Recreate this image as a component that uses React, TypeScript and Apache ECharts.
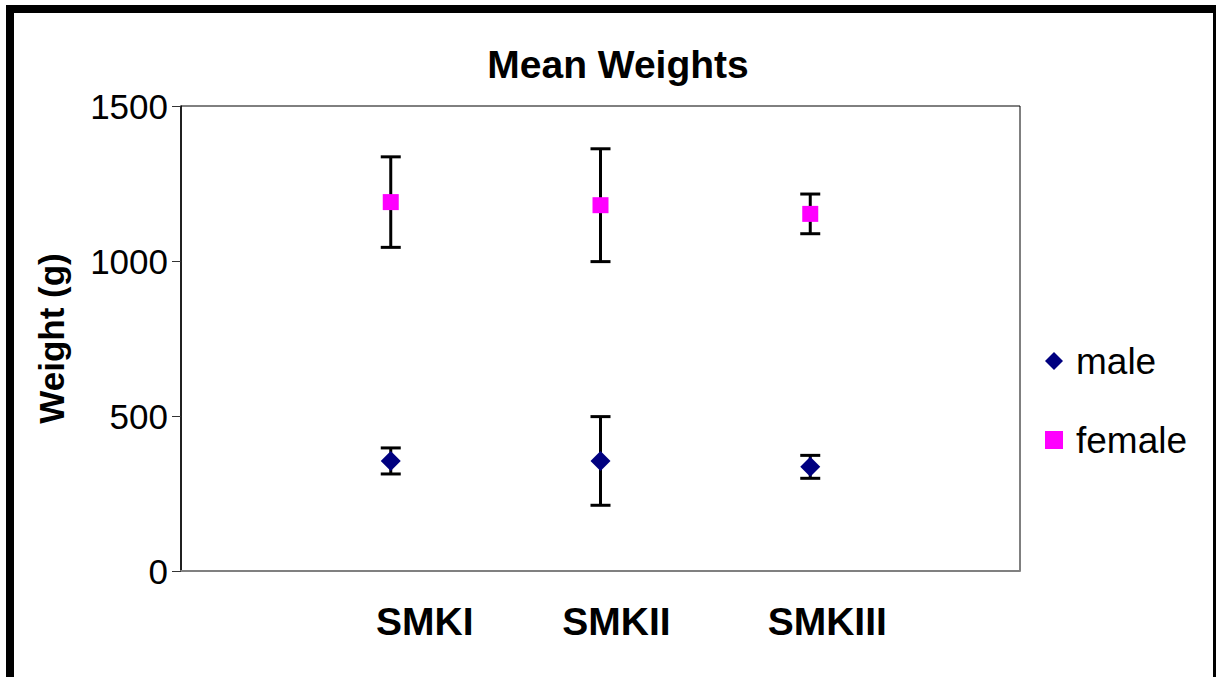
import React, { useEffect, useRef } from "react";
import * as echarts from "echarts";

const categories = ["SMKI", "SMKII", "SMKIII"];
const categoryX = [1, 2, 3];
const maleMean = [355, 355, 336];
const maleErr = [42, 143, 37];
const femaleMean = [1190, 1180, 1152];
const femaleErr = [146, 182, 64];
const yTicks = [0, 500, 1000, 1500];

const FONT = "'Liberation Sans', Arial, Helvetica, sans-serif";

export default function App() {
  const ref = useRef<HTMLDivElement>(null);
  useEffect(() => {
    if (!ref.current) return;
    const chart = echarts.init(ref.current, undefined, { renderer: "svg" });

    // label layout offsets (px) to mimic the original's label placement
    const labelPad = [68, 32, 34];

    const errData = (means: number[], errs: number[]) =>
      means.map((m, i) => [categoryX[i], m - errs[i], m + errs[i]]);

    const renderErr = (params: any, api: any) => {
      const x = api.value(0);
      const lo = api.coord([x, api.value(1)]);
      const hi = api.coord([x, api.value(2)]);
      const cap = 10;
      const style = { stroke: "#000", lineWidth: 3 };
      return {
        type: "group",
        children: [
          { type: "line", shape: { x1: lo[0], y1: lo[1], x2: hi[0], y2: hi[1] }, style },
          { type: "line", shape: { x1: hi[0] - cap, y1: hi[1], x2: hi[0] + cap, y2: hi[1] }, style },
          { type: "line", shape: { x1: lo[0] - cap, y1: lo[1], x2: lo[0] + cap, y2: lo[1] }, style },
        ],
      };
    };

    const labelTextStyle = { fontFamily: FONT, fontSize: 39, fontWeight: "bold", color: "#000" };
    const rich: any = {};
    labelPad.forEach((p, i) => {
      rich["c" + i] = { ...labelTextStyle, padding: [0, 0, 0, p] };
    });

    chart.setOption({
      animation: false,
      backgroundColor: "#fff",
      title: {
        text: "Mean Weights",
        left: 613,
        textAlign: "center",
        top: 40,
        textStyle: { fontFamily: FONT, fontSize: 39, fontWeight: "bold", color: "#000" },
      },
      legend: {
        orient: "vertical",
        left: 1040,
        top: 336,
        itemWidth: 18,
        itemHeight: 18,
        itemGap: 39,
        data: [
          { name: "male", icon: "diamond" },
          { name: "female", icon: "rect" },
        ],
        textStyle: { fontFamily: FONT, fontSize: 37, color: "#000", lineHeight: 40, padding: [0, 0, 0, 8] },
      },
      grid: {
        left: 181,
        top: 106,
        width: 839,
        height: 465,
        show: true,
        borderColor: "#000",
        borderWidth: 1,
        backgroundColor: "#fff",
      },
      xAxis: {
        type: "value",
        min: 0,
        max: 4,
        interval: 1,
        splitLine: { show: false },
        axisTick: { show: false },
        axisLine: { show: true, lineStyle: { color: "#808080", width: 2 } },
        axisLabel: {
          margin: 31,
          ...labelTextStyle,
          rich,
          formatter: (v: number) => {
            const i = categoryX.indexOf(v);
            return i >= 0 ? `{c${i}|${categories[i]}}` : "";
          },
        },
      },
      yAxis: {
        type: "value",
        min: yTicks[0],
        max: yTicks[yTicks.length - 1],
        interval: 500,
        name: "Weight (g)",
        nameLocation: "middle",
        nameGap: 112,
        nameRotate: 90,
        nameTextStyle: { fontFamily: FONT, fontSize: 35, fontWeight: "bold", color: "#000" },
        splitLine: { show: false },
        axisLine: { show: true, lineStyle: { color: "#000", width: 1.5 } },
        axisTick: { show: true, inside: false, length: 9, lineStyle: { color: "#333", width: 1 } },
        axisLabel: {
          margin: 13,
          fontFamily: FONT,
          fontSize: 35,
          color: "#000",
          formatter: (v: number) => String(v),
        },
      },
      graphic: [
        { type: "rect", shape: { x: 6, y: 5, width: 8, height: 672 }, style: { fill: "#000" }, silent: true },
        { type: "rect", shape: { x: 6, y: 5, width: 1210, height: 8 }, style: { fill: "#000" }, silent: true },
        { type: "rect", shape: { x: 1213, y: 5, width: 8, height: 672 }, style: { fill: "#000" }, silent: true },
      ],
      series: [
        {
          name: "maleErr",
          type: "custom",
          renderItem: renderErr,
          encode: { x: 0, y: [1, 2] },
          data: errData(maleMean, maleErr),
          z: 1,
        },
        {
          name: "femaleErr",
          type: "custom",
          renderItem: renderErr,
          encode: { x: 0, y: [1, 2] },
          data: errData(femaleMean, femaleErr),
          z: 1,
        },
        {
          name: "male",
          type: "scatter",
          symbol: "diamond",
          symbolSize: [20, 20],
          itemStyle: { color: "#000080", opacity: 1 },
          data: maleMean.map((m, i) => [categoryX[i], m]),
          z: 3,
        },
        {
          name: "female",
          type: "scatter",
          symbol: "rect",
          symbolSize: [16, 16],
          itemStyle: { color: "#FF00FF", opacity: 1 },
          data: femaleMean.map((m, i) => [categoryX[i], m]),
          z: 3,
        },
      ],
    });
    return () => chart.dispose();
  }, []);
  return (
    <div
      ref={ref}
      style={{ position: "fixed", left: 0, top: 0, width: 1216, height: 677, background: "#fff" }}
    />
  );
}
